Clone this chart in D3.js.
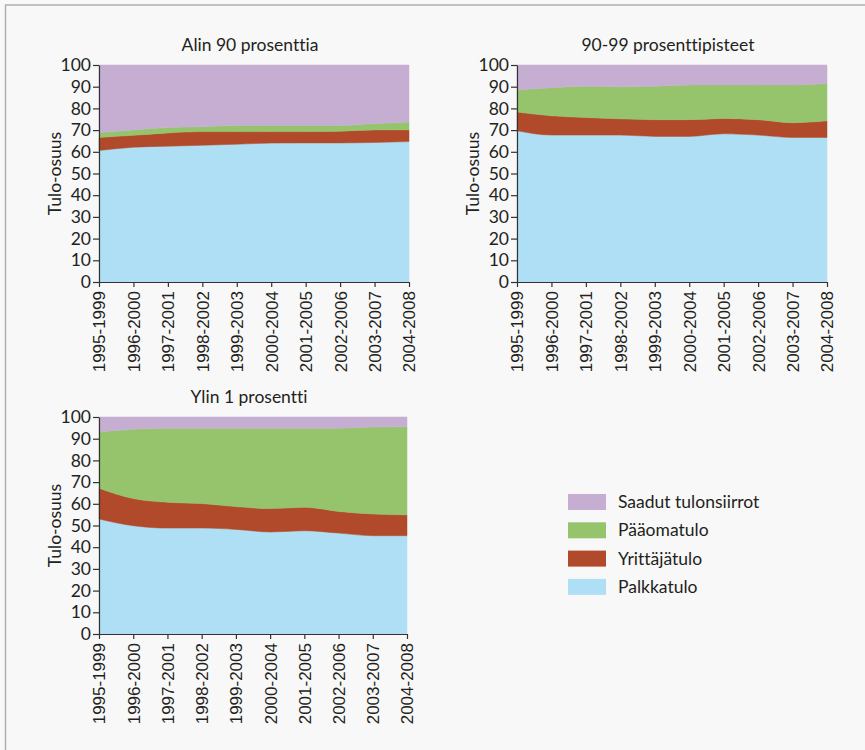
<!DOCTYPE html>
<html><head><meta charset="utf-8">
<script src="https://cdn.jsdelivr.net/npm/d3@7"></script>
<style>
html,body{margin:0;padding:0;background:#f8f8f8;}
svg{display:block;font-family:Lato,"Noto Sans",sans-serif;font-variant-ligatures:none;}
</style></head>
<body><svg id="c" width="865" height="750"></svg>
<script>
const periods = ["1995-1999","1996-2000","1997-2001","1998-2002","1999-2003","2000-2004","2001-2005","2002-2006","2003-2007","2004-2008"];
const seriesNames = ["Palkkatulo","Yrittäjätulo","Pääomatulo","Saadut tulonsiirrot"];
const seriesColors = ["#aedff4","#b04a2a","#95c46c","#c6aed3"];
const yTicks = [0,10,20,30,40,50,60,70,80,90,100];

const palkka1 = [60.6,62.1,62.6,63.0,63.5,64.0,64.1,64.1,64.3,64.7];
const yritt1  = [6.0,5.5,6.1,6.3,5.8,5.3,5.2,5.4,5.8,5.4];
const paaoma1 = [2.3,2.5,2.5,2.3,2.8,2.8,2.8,2.6,2.9,3.6];
const saadut1 = [31.1,29.9,28.8,28.4,27.9,27.9,27.9,27.9,27.0,26.3];

const palkka2 = [69.7,67.7,67.7,67.7,67.1,67.1,68.3,67.7,66.6,66.6];
const yritt2  = [8.6,8.9,8.1,7.5,7.7,7.7,7.1,7.1,6.8,7.7];
const paaoma2 = [10.2,12.9,14.4,14.8,15.4,16.0,15.4,16.0,17.4,17.2];
const saadut2 = [11.5,10.5,9.8,10.0,9.8,9.2,9.2,9.2,9.2,8.5];

const palkka3 = [53.0,49.9,48.8,48.8,48.2,47.0,47.6,46.5,45.3,45.3];
const yritt3  = [14.2,12.5,11.9,11.3,10.5,10.8,10.8,10.0,10.0,9.6];
const paaoma3 = [25.9,31.9,34.1,34.7,36.1,37.0,36.4,38.3,40.1,40.6];
const saadut3 = [6.9,5.7,5.2,5.2,5.2,5.2,5.2,5.2,4.6,4.5];

const panels = [
  {title:"Alin 90 prosenttia", x0:99, x1:409, y0:65, y1:282, data:[palkka1,yritt1,paaoma1,saadut1]},
  {title:"90-99 prosenttipisteet", x0:517, x1:827, y0:65, y1:282, data:[palkka2,yritt2,paaoma2,saadut2]},
  {title:"Ylin 1 prosentti", x0:99, x1:407, y0:417, y1:634, data:[palkka3,yritt3,paaoma3,saadut3]}
];

const svg = d3.select("#c");
svg.append("rect").attr("x",5.5).attr("y",5).attr("width",900).attr("height",800)
  .attr("fill","#f8f8f8").attr("stroke","#b0b0b0").attr("stroke-width",1.5);

const textColor = "#231f20";

panels.forEach(p => {
  const rows = periods.map((per,i) => {
    const r = {period:per};
    seriesNames.forEach((s,k) => r[s] = p.data[k][i]);
    return r;
  });
  const stack = d3.stack().keys(seriesNames).order(d3.stackOrderNone).offset(d3.stackOffsetNone);
  const layers = stack(rows);
  const x = d3.scalePoint().domain(periods).range([p.x0,p.x1]);
  const y = d3.scaleLinear().domain([0,100]).range([p.y1,p.y0]);
  const area = d3.area().x(d => x(d.data.period)).y0(d => y(d[0])).y1(d => y(d[1])).curve(d3.curveMonotoneX);
  const g = svg.append("g");
  g.selectAll("path.layer").data(layers).join("path").attr("class","layer")
    .attr("d",area).attr("fill",(d,i)=>seriesColors[i]).attr("stroke",(d,i)=>seriesColors[i]).attr("stroke-width",0.5);

  const ya = g.append("g").attr("transform",`translate(${p.x0},0)`)
    .call(d3.axisLeft(y).tickValues(yTicks).tickSize(6).tickPadding(2).tickSizeOuter(0));
  ya.select(".domain").attr("stroke","#333").attr("stroke-width",1.2);
  ya.selectAll(".tick line").attr("stroke","#333").attr("stroke-width",1.2);
  ya.selectAll(".tick text").attr("font-size",17.5).attr("fill",textColor).attr("font-family","Lato");

  const xa = g.append("g").attr("transform",`translate(0,${p.y1})`)
    .call(d3.axisBottom(x).tickSize(5).tickSizeOuter(0));
  xa.select(".domain").attr("stroke","#333").attr("stroke-width",1.2);
  xa.selectAll(".tick line").attr("stroke","#333").attr("stroke-width",1.2);
  xa.selectAll(".tick text").attr("font-size",17).attr("fill",textColor)
    .attr("transform","rotate(-90)").attr("text-anchor","end").attr("dy","0.35em").attr("x",-9).attr("y",0);

  g.append("text").attr("x",(p.x0+p.x1)/2 - 4).attr("y",p.y0-14).attr("text-anchor","middle")
    .attr("font-size",17.5).attr("fill",textColor).text(p.title);
  g.append("text").attr("transform",`translate(${p.x0-38},${(p.y0+p.y1)/2}) rotate(-90)`)
    .attr("text-anchor","middle").attr("font-size",17.5).attr("fill",textColor).text("Tulo-osuus");
});

const legendOrder = [3,2,1,0];
const lg = svg.append("g").attr("transform","translate(568,494)");
legendOrder.forEach((k,i) => {
  const row = lg.append("g").attr("transform",`translate(0,${i*28.3})`);
  row.append("rect").attr("width",38).attr("height",16).attr("fill",seriesColors[k]);
  row.append("text").attr("x",50).attr("y",14).attr("font-size",17.5).attr("fill",textColor).text(seriesNames[k]);
});
</script></body></html>
